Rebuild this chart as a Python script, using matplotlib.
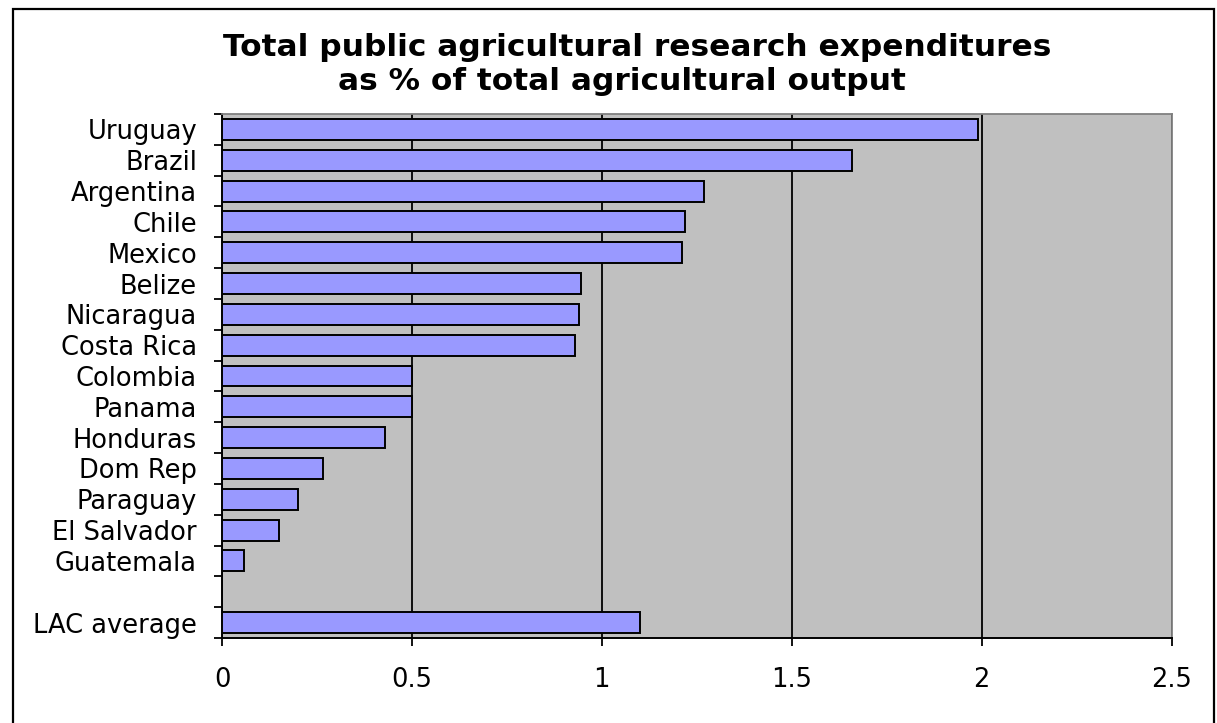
import matplotlib
matplotlib.use('Agg')
import matplotlib.pyplot as plt
import matplotlib.patches as patches
import numpy as np

# research spending as % of agricultural output
countries = ['Uruguay', 'Brazil', 'Argentina', 'Chile', 'Mexico', 'Belize',
             'Nicaragua', 'Costa Rica', 'Colombia', 'Panama', 'Honduras',
             'Dom Rep', 'Paraguay', 'El Salvador', 'Guatemala']
values = [1.99, 1.66, 1.27, 1.22, 1.21, 0.945, 0.94, 0.93, 0.50, 0.50,
          0.43, 0.265, 0.20, 0.15, 0.058]
avg_label = 'LAC average'
avg_value = 1.10
x_ticks = [0, 0.5, 1, 1.5, 2, 2.5]
x_ticklabels = ['0', '0.5', '1', '1.5', '2', '2.5']

# one empty slot between the countries and the average
labels = countries + ['', avg_label]
pos = np.arange(len(labels))
bar_pos = list(pos[:len(countries)]) + [pos[-1]]
bar_vals = values + [avg_value]

fig = plt.figure(figsize=(12.17, 7.23), dpi=100)
ax = fig.add_axes([222 / 1217, 1 - 638 / 723, (1171.5 - 222) / 1217, (638 - 114) / 723])

ax.set_facecolor('#c0c0c0')
ax.barh(bar_pos, bar_vals, height=0.68, color='#9999ff', edgecolor='black',
        linewidth=1.4, zorder=3)

ax.set_xlim(0, 2.5)
ax.set_ylim(len(labels) - 0.5, -0.5)
ax.set_xticks(x_ticks)
ax.set_xticklabels(x_ticklabels, fontsize=18.5)
ax.xaxis.grid(True, color='black', linewidth=1.3)
ax.set_axisbelow(True)

ax.set_yticks(pos)
ax.set_yticklabels(labels, fontsize=18.5)
ax.set_yticks(np.arange(-0.5, len(labels)), minor=True)
ax.tick_params(axis='y', which='major', length=0, pad=18)
ax.tick_params(axis='y', which='minor', length=6, width=1.3, direction='out')
ax.tick_params(axis='x', which='major', length=6, width=1.3, direction='out', pad=15)

for side in ['left', 'bottom']:
    ax.spines[side].set_color('black')
    ax.spines[side].set_linewidth(1.4)
for side in ['top', 'right']:
    ax.spines[side].set_color('#808080')
    ax.spines[side].set_linewidth(1.3)

fig.text(637 / 1217, 1 - 47 / 723, 'Total public agricultural research expenditures',
         ha='center', va='center', fontsize=22.5, fontweight='bold')
fig.text(622 / 1217, 1 - 82 / 723, 'as % of total agricultural output',
         ha='center', va='center', fontsize=22.5, fontweight='bold')

# chart border
fig.patches.append(patches.Rectangle((13 / 1217, -0.05), (1214 - 13) / 1217, 1.05 - 9 / 723,
                                     transform=fig.transFigure, fill=False,
                                     edgecolor='black', linewidth=1.6))

fig.savefig('out.png', dpi=100)
